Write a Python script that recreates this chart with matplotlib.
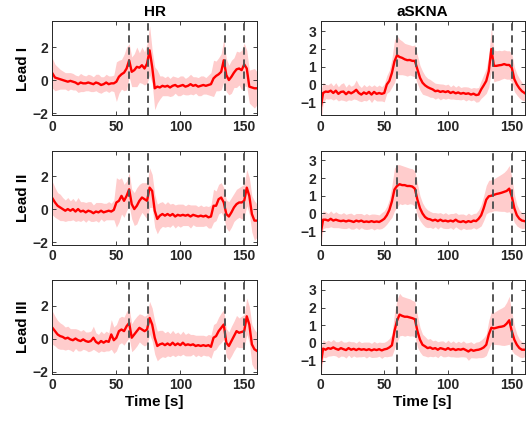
import matplotlib
matplotlib.use("Agg")
import matplotlib.pyplot as plt
import numpy as np

plt.rcParams['font.family'] = ['Liberation Sans', 'DejaVu Sans']
plt.rcParams['font.weight'] = 'bold'

# time axis (s), one value every 2 s
t = np.arange(0, 161, 2)

# HR, mean and band half-width per lead
hr_lead1 = [0.40, 0.15, 0.10, 0.05, 0.0, -0.05, -0.1, -0.05, -0.1, -0.15,
            -0.25, -0.15, -0.2, -0.2, -0.15, -0.2, -0.25, -0.15, -0.2, -0.3,
            -0.25, -0.15, -0.25, -0.2, -0.2, -0.1, 0.2, 0.35, 0.45, 0.7,
            1.2, 0.5, 0.6, 0.8, 0.75, 0.9, 0.7, 1.0, 1.8, 0.8,
            -0.5, -0.4, -0.45, -0.35, -0.4, -0.35, -0.45, -0.35, -0.3, -0.4,
            -0.35, -0.3, -0.4, -0.35, -0.25, -0.35, -0.3, -0.4, -0.35, -0.3,
            -0.35, -0.3, -0.25, 0.1, 0.25, 0.35, 0.5, 1.2, 0.3, 0.0,
            0.2, 0.45, 0.65, 0.7, 0.6, 0.95, 0.7, -0.4, -0.45, -0.5, -0.5]
hr_lead1_sd = [0.9, 0.8, 0.7, 0.6, 0.55, 0.5, 0.55, 0.5, 0.5, 0.45,
               0.5, 0.55, 0.5, 0.45, 0.5, 0.5, 0.45, 0.5, 0.55, 0.5,
               0.45, 0.5, 0.5, 0.45, 0.5, 1.2, 1.0, 0.9, 1.1, 1.3,
               1.0, 0.9, 1.0, 1.2, 0.9, 1.1, 1.0, 1.2, 1.5, 1.0,
               1.3, 1.0, 0.7, 0.6, 0.55, 0.6, 0.55, 0.6, 0.5, 0.55,
               0.6, 0.55, 0.5, 0.55, 0.6, 0.55, 0.5, 0.55, 0.6, 0.55,
               0.5, 0.6, 0.7, 1.1, 0.9, 1.0, 1.1, 1.3, 1.0, 0.9,
               1.0, 0.9, 1.1, 1.0, 1.2, 1.3, 1.1, 1.0, 1.1, 1.2, 1.0]

hr_lead2 = [0.65, 0.4, 0.2, 0.1, 0.0, -0.1, 0.0, -0.1, 0.0, -0.15,
            0.0, -0.15, -0.1, -0.2, -0.1, -0.15, -0.25, -0.15, -0.2, -0.1,
            -0.2, -0.15, -0.1, -0.15, -0.05, 0.4, 0.5, 0.8, 0.5, 0.8,
            1.2, 0.3, 0.0, 0.2, 0.5, 0.7, 0.6, 0.5, 1.3, 1.1,
            -0.1, -0.6, -0.4, -0.3, -0.4, -0.3, -0.4, -0.3, -0.45, -0.35,
            -0.4, -0.35, -0.4, -0.35, -0.45, -0.35, -0.4, -0.45, -0.4, -0.45,
            -0.4, -0.5, -0.45, 0.2, 0.2, 0.6, 0.7, 0.4, -0.3, -0.45,
            -0.2, 0.1, 0.3, 0.4, 0.4, 0.5, 1.3, 0.8, -0.3, -0.7, -0.7]
hr_lead2_sd = [1.0, 0.9, 0.8, 0.8, 0.7, 0.65, 0.7, 0.6, 0.65, 0.6,
               0.7, 0.6, 0.55, 0.6, 0.55, 0.6, 0.5, 0.55, 0.6, 0.5,
               0.55, 0.5, 0.55, 0.5, 0.6, 1.5, 1.3, 1.1, 1.0, 0.9,
               1.0, 0.9, 1.0, 1.1, 1.0, 0.9, 1.0, 1.1, 1.2, 1.0,
               1.0, 0.9, 0.8, 0.75, 0.7, 0.75, 0.7, 0.65, 0.7, 0.65,
               0.7, 0.65, 0.6, 0.65, 0.7, 0.6, 0.65, 0.6, 0.65, 0.6,
               0.6, 0.65, 0.7, 1.0, 0.9, 0.9, 0.9, 0.9, 0.85, 0.9,
               0.9, 0.85, 0.9, 0.9, 1.0, 1.0, 1.1, 1.1, 1.1, 1.2, 1.0]

hr_lead3 = [0.65, 0.45, 0.25, 0.15, 0.1, 0.0, 0.05, -0.05, -0.1, 0.0,
            -0.1, -0.15, -0.05, -0.15, -0.2, -0.15, 0.05, -0.2, -0.3, -0.15,
            -0.25, -0.15, -0.2, 0.25, -0.1, 0.05, 0.45, 0.55, 0.45, 0.75,
            0.95, 0.05, 0.25, 0.45, 0.65, 0.55, 0.45, 0.55, 1.25, 0.85,
            0.05, -0.45, -0.35, -0.3, -0.4, -0.3, -0.4, -0.25, -0.4, -0.3,
            -0.4, -0.25, -0.4, -0.35, -0.4, -0.35, -0.45, -0.4, -0.45, -0.4,
            -0.45, -0.4, -0.5, 0.05, 0.15, 0.45, 0.65, 0.85, -0.25, -0.45,
            -0.15, 0.15, 0.45, 0.35, 0.4, 0.45, 1.35, 0.85, -0.35, -0.65, -0.75]
hr_lead3_sd = [1.0, 0.9, 0.85, 0.8, 0.75, 0.7, 0.7, 0.65, 0.7, 0.6,
               0.65, 0.6, 0.6, 0.55, 0.6, 0.6, 0.7, 0.55, 0.55, 0.6,
               0.55, 0.6, 0.55, 0.9, 0.8, 0.8, 0.8, 0.8, 0.85, 0.9,
               0.9, 0.85, 0.9, 0.9, 0.85, 0.9, 0.9, 0.9, 1.0, 1.0,
               1.0, 0.9, 0.85, 0.8, 0.75, 0.75, 0.7, 0.75, 0.7, 0.7,
               0.65, 0.7, 0.65, 0.7, 0.65, 0.6, 0.65, 0.6, 0.65, 0.6,
               0.6, 0.65, 0.7, 0.8, 0.8, 0.85, 0.9, 0.9, 0.85, 0.85,
               0.9, 0.9, 0.95, 0.9, 0.95, 1.0, 1.1, 1.1, 1.2, 1.2, 1.1]

# aSKNA, mean and band half-width per lead
sk_lead1 = [-1.4, -0.48, -0.4, -0.42, -0.35, -0.48, -0.35, -0.53, -0.42, -0.4,
            -0.55, -0.42, -0.5, -0.42, -0.3, -0.48, -0.57, -0.45, -0.53, -0.42,
            -0.57, -0.42, -0.53, -0.48, -0.53, -0.48, 0.0, 0.2, 0.65, 1.3,
            1.65, 1.55, 1.5, 1.42, 1.37, 1.38, 1.33, 1.33, 0.85, 0.38,
            0.1, -0.05, -0.15, -0.22, -0.28, -0.38, -0.35, -0.42, -0.38, -0.43,
            -0.38, -0.48, -0.42, -0.5, -0.45, -0.52, -0.48, -0.53, -0.5, -0.57,
            -0.52, -0.6, -0.57, -0.28, -0.05, 0.2, 0.75, 2.0, 1.05, 1.05,
            1.08, 1.1, 1.15, 1.1, 1.1, 0.95, 0.3, 0.0, -0.22, -0.38, -0.48]
sk_lead1_sd = [1.0, 0.6, 0.4, 0.4, 0.45, 0.4, 0.45, 0.4, 0.45, 0.5,
               0.4, 0.45, 0.4, 0.4, 0.55, 0.45, 0.4, 0.45, 0.4, 0.4,
               0.45, 0.4, 0.4, 0.45, 0.4, 0.5, 0.5, 0.6, 0.8, 1.2,
               1.1, 1.0, 0.95, 0.9, 0.9, 0.85, 0.85, 0.9, 0.8, 0.7,
               0.65, 0.55, 0.5, 0.5, 0.45, 0.45, 0.4, 0.45, 0.4, 0.4,
               0.4, 0.35, 0.4, 0.35, 0.4, 0.35, 0.35, 0.4, 0.35, 0.35,
               0.35, 0.4, 0.4, 0.5, 0.6, 0.7, 0.9, 1.2, 0.9, 0.85,
               0.85, 0.8, 0.8, 0.8, 0.8, 0.8, 0.7, 0.6, 0.55, 0.5, 0.45]

sk_lead2 = [-1.2, -0.35, -0.35, -0.4, -0.3, -0.4, -0.35, -0.4, -0.43, -0.4,
            -0.45, -0.4, -0.43, -0.48, -0.4, -0.45, -0.4, -0.48, -0.45, -0.48,
            -0.43, -0.48, -0.45, -0.48, -0.4, -0.3, -0.1, 0.2, 0.68, 1.35,
            1.55, 1.65, 1.6, 1.6, 1.55, 1.55, 1.52, 1.4, 0.78, 0.3,
            0.0, -0.2, -0.3, -0.33, -0.4, -0.35, -0.43, -0.35, -0.43, -0.4,
            -0.45, -0.4, -0.45, -0.35, -0.45, -0.48, -0.43, -0.5, -0.43, -0.48,
            -0.4, -0.43, -0.3, -0.1, 0.3, 0.78, 0.97, 1.0, 1.05, 1.1,
            1.13, 1.17, 1.22, 1.27, 1.4, 0.97, 0.3, -0.1, -0.3, -0.4, -0.43]
sk_lead2_sd = [0.9, 0.5, 0.45, 0.4, 0.45, 0.4, 0.45, 0.4, 0.4, 0.45,
               0.4, 0.4, 0.45, 0.4, 0.4, 0.45, 0.4, 0.4, 0.45, 0.4,
               0.4, 0.45, 0.4, 0.4, 0.45, 0.45, 0.5, 0.6, 0.9, 1.2,
               1.2, 1.1, 1.1, 1.05, 1.05, 1.0, 1.0, 1.0, 0.9, 0.7,
               0.6, 0.55, 0.5, 0.45, 0.45, 0.4, 0.45, 0.4, 0.4, 0.45,
               0.4, 0.4, 0.45, 0.4, 0.4, 0.45, 0.4, 0.4, 0.45, 0.4,
               0.4, 0.45, 0.5, 0.6, 0.7, 0.8, 0.9, 0.9, 0.9, 0.95,
               1.0, 1.05, 1.1, 1.2, 1.3, 1.1, 0.8, 0.6, 0.5, 0.45, 0.4]

sk_lead3 = [-1.3, -0.32, -0.38, -0.29, -0.33, -0.25, -0.33, -0.38, -0.29, -0.35,
            -0.4, -0.29, -0.38, -0.33, -0.4, -0.33, -0.38, -0.35, -0.4, -0.35,
            -0.42, -0.36, -0.4, -0.35, -0.42, -0.36, -0.33, -0.25, -0.13, 0.67,
            1.25, 1.6, 1.53, 1.48, 1.48, 1.44, 1.4, 1.34, 0.67, 0.19,
            -0.1, -0.19, -0.29, -0.25, -0.33, -0.29, -0.38, -0.29, -0.33, -0.38,
            -0.29, -0.38, -0.33, -0.4, -0.35, -0.38, -0.33, -0.4, -0.48, -0.38,
            -0.44, -0.4, -0.38, -0.33, -0.25, -0.1, 0.48, 0.86, 0.82, 0.86,
            0.9, 0.92, 0.96, 1.09, 1.28, 0.67, 0.19, -0.1, -0.29, -0.38, -0.38]
sk_lead3_sd = [0.9, 0.5, 0.45, 0.45, 0.4, 0.45, 0.4, 0.45, 0.45, 0.4,
               0.45, 0.4, 0.45, 0.4, 0.4, 0.45, 0.4, 0.4, 0.45, 0.4,
               0.4, 0.45, 0.4, 0.4, 0.45, 0.4, 0.45, 0.5, 0.6, 1.0,
               1.2, 1.2, 1.1, 1.1, 1.05, 1.05, 1.0, 1.0, 0.9, 0.7,
               0.6, 0.55, 0.5, 0.5, 0.45, 0.45, 0.45, 0.4, 0.45, 0.4,
               0.45, 0.4, 0.45, 0.4, 0.45, 0.4, 0.45, 0.4, 0.5, 0.45,
               0.4, 0.45, 0.45, 0.5, 0.55, 0.6, 0.8, 0.9, 0.9, 0.95,
               1.0, 1.05, 1.1, 1.2, 1.35, 1.1, 0.8, 0.6, 0.5, 0.45, 0.4]

events = [60, 75, 135, 150]
leads = ["Lead I", "Lead II", "Lead III"]
columns = ["HR", "aSKNA"]

hr_means = [hr_lead1, hr_lead2, hr_lead3]
hr_sds = [hr_lead1_sd, hr_lead2_sd, hr_lead3_sd]
sk_means = [sk_lead1, sk_lead2, sk_lead3]
sk_sds = [sk_lead1_sd, sk_lead2_sd, sk_lead3_sd]

fig = plt.figure(figsize=(5.29, 4.24), dpi=100)

col_left = [0.0992, 0.6059]
col_width = [0.3866, 0.3856]
row_bottom = [0.7276, 0.4233, 0.1179]
row_height = 0.2217

for r in range(3):
    for c in range(2):
        ax = fig.add_axes([col_left[c], row_bottom[r], col_width[c], row_height])
        if c == 0:
            m = np.array(hr_means[r]); s = np.array(hr_sds[r])
        else:
            m = np.array(sk_means[r]); s = np.array(sk_sds[r])
        ax.fill_between(t, m - s, m + s, color=(1.0, 0.8, 0.8), lw=0, zorder=1)
        ax.plot(t, m, color='r', lw=1.7, zorder=2)
        for e in events:
            ax.axvline(e, color='#555555', ls=(0, (3.8, 2.4)), lw=1.4, zorder=3)
        ax.set_xlim(0, 160)
        ax.set_xticks([0, 50, 100, 150])
        if c == 0:
            ax.set_ylim(-2.15, 3.55)
            ax.set_yticks([-2, 0, 2])
            ax.set_ylabel(leads[r], fontsize=11, fontweight='bold', labelpad=2)
        else:
            ax.set_ylim(-1.75, 3.55)
            ax.set_yticks([-1, 0, 1, 2, 3])
        if r == 0:
            ax.set_title(columns[c], fontsize=11, fontweight='bold', pad=4)
        if r == 2:
            ax.set_xlabel("Time [s]", fontsize=11, fontweight='bold', labelpad=2)
        ax.tick_params(direction='in', top=True, right=True, length=3,
                       width=0.6, labelsize=10, pad=3, colors='#262626')
        for lab in ax.get_xticklabels() + ax.get_yticklabels():
            lab.set_fontweight('bold')
        for sp in ax.spines.values():
            sp.set_linewidth(0.7)
            sp.set_color('#262626')

plt.savefig("out.png", dpi=100)
